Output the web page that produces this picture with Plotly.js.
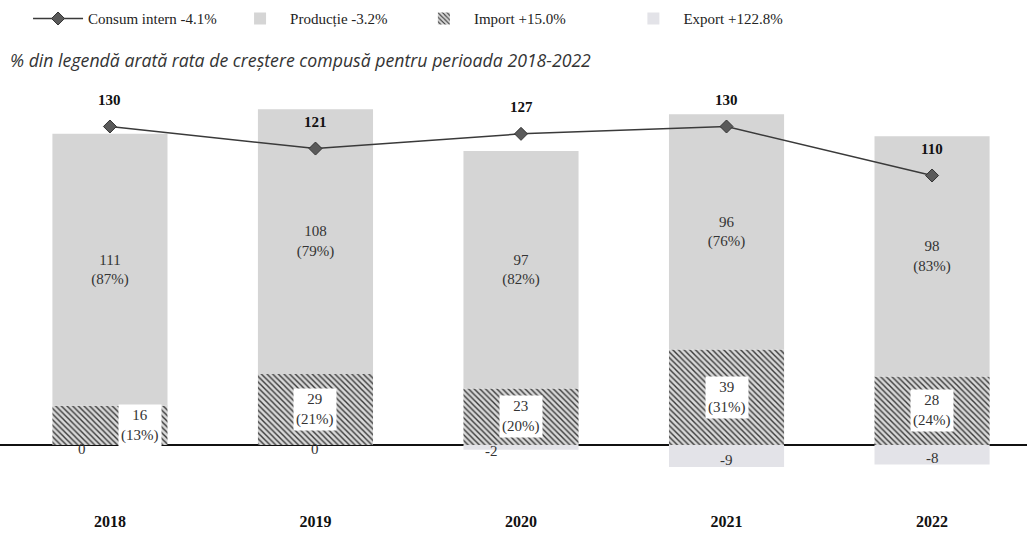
<!DOCTYPE html>
<html>
<head>
<meta charset="utf-8">
<script src="https://cdn.plot.ly/plotly-3.0.1.min.js"></script>
<style>html,body{margin:0;padding:0;background:#fff}#chart{width:1027px;height:533px}</style>
</head>
<body>
<div id="chart"></div>
<script>
const years = ['2018', '2019', '2020', '2021', '2022'];
const consum = [130, 121, 127, 130, 110];
const productie = [111, 108, 97, 96, 98];
const productieShare = [87, 79, 82, 76, 83];
const importVals = [16, 29, 23, 39, 28];
const importShare = [13, 21, 20, 31, 24];
const exportVals = [0, 0, -2, -9, -8];
const legendNames = ['Consum intern -4.1%', 'Producție -3.2%', 'Import +15.0%', 'Export +122.8%'];
const subtitle = '% din legendă arată rata de creștere compusă pentru perioada 2018-2022';

const serif = 'Liberation Serif, Times New Roman, serif';

const lineTrace = {
  type: 'scatter', mode: 'lines+markers', name: legendNames[0], legend: 'legend',
  x: years, y: consum,
  line: {color: '#3a3a3a', width: 1.5},
  marker: {symbol: 'diamond', size: 10, color: '#5a5a5a', line: {color: '#333', width: 1}},
  hoverinfo: 'skip'
};
const prodTrace = {
  type: 'bar', name: legendNames[1], legend: 'legend2', x: years, y: productie,
  marker: {color: '#d5d5d5'},
  text: productie.map((v, i) => v + '<br>(' + productieShare[i] + '%)'),
  textposition: 'inside', insidetextanchor: 'middle',
  textfont: {family: serif, size: 15, color: '#333'},
  hoverinfo: 'skip'
};
const impTrace = {
  type: 'bar', name: legendNames[2], legend: 'legend3', x: years, y: importVals,
  marker: {color: '#d0d0d0', pattern: {shape: '\\', fgcolor: '#3a3a3a', bgcolor: '#d8d8d8', size: 4, solidity: 0.35}},
  textposition: 'none',
  hoverinfo: 'skip'
};
const expTrace = {
  type: 'bar', name: legendNames[3], legend: 'legend4', x: years, y: exportVals,
  marker: {color: '#e3e3e8'},
  textposition: 'none',
  hoverinfo: 'skip'
};
const data = [impTrace, prodTrace, expTrace, lineTrace];

const annotations = [];
years.forEach((yr, i) => {
  annotations.push({
    x: i, y: consum[i], xref: 'x', yref: 'y', text: '<b>' + consum[i] + '</b>',
    showarrow: false, yshift: 27, font: {family: serif, size: 15, color: '#111'}
  });
  annotations.push({
    x: i, y: importVals[i] / 2, xref: 'x', yref: 'y',
    text: importVals[i] + '<br>(' + importShare[i] + '%)',
    showarrow: false, bgcolor: '#ffffff', borderpad: 2,
    xshift: i === 0 ? 30 : 0,
    font: {family: serif, size: 15, color: '#333'}
  });
  annotations.push({
    x: i, y: exportVals[i] / 2 - 1.5, xref: 'x', yref: 'y',
    text: String(exportVals[i]), showarrow: false,
    xshift: i === 0 ? -28 : (i === 2 ? -30 : 0),
    font: {family: serif, size: 15, color: '#333'}
  });
});
annotations.push({
  xref: 'paper', yref: 'paper', x: 0.008, y: 1.077, xanchor: 'left', yanchor: 'middle',
  text: '<i>' + subtitle + '</i>', showarrow: false,
  font: {family: 'Open Sans, sans-serif', size: 17.7, color: '#333'}
});

function legendAt(xp) {
  return {
    orientation: 'h', x: xp, xanchor: 'left', y: 1.225, yanchor: 'top',
    font: {family: serif, size: 15, color: '#222'}, itemwidth: 50,
    bgcolor: 'rgba(0,0,0,0)'
  };
}

const layout = {
  width: 1027, height: 533,
  margin: {l: 0, r: 0, t: 90, b: 53},
  paper_bgcolor: '#fff', plot_bgcolor: '#fff',
  barmode: 'relative', bargap: 0.44,
  showlegend: true,
  legend: legendAt(0.0273),
  legend2: legendAt(0.224),
  legend3: legendAt(0.403),
  legend4: legendAt(0.607),
  xaxis: {
    type: 'category', range: [-0.535, 4.462],
    showgrid: false, showline: false, zeroline: false, ticks: '',
    tickfont: {family: serif, size: 16, color: '#111', weight: 'bold'},
    ticklabelstandoff: 30
  },
  yaxis: {
    range: [-14.3, 144.9], showgrid: false, showticklabels: false, ticks: '',
    zeroline: true, zerolinecolor: '#111', zerolinewidth: 1.5, showline: false
  },
  annotations: annotations
};

Plotly.newPlot('chart', data, layout, {displayModeBar: false, staticPlot: true});
</script>
</body>
</html>
